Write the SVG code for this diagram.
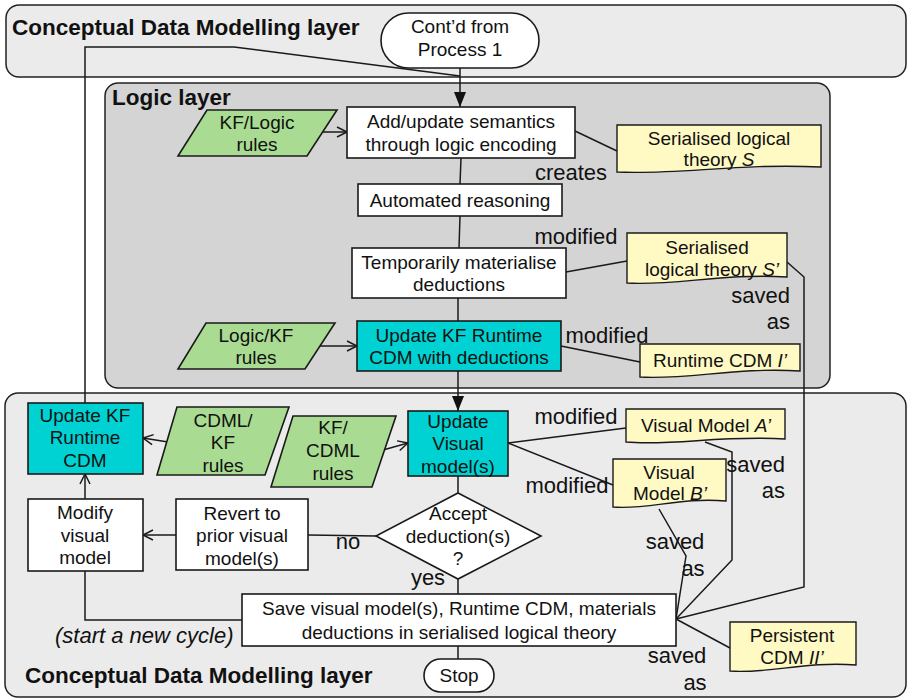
<svg xmlns="http://www.w3.org/2000/svg" width="910" height="700" viewBox="0 0 910 700">
<defs>
<style>
text{font-family:"Liberation Sans",Arial,Helvetica,sans-serif;font-size:19px;fill:#111;}
.c{text-anchor:middle;}
.r{text-anchor:end;}
.lbl{font-size:22px;}
.ttl{font-size:22.5px;font-weight:bold;}
.it{font-style:italic;}
.lay{fill:#ebebeb;stroke:#222;stroke-width:1.5;}
.lay2{fill:#d4d4d4;stroke:#222;stroke-width:1.5;}
.box{fill:#fff;stroke:#1a1a1a;stroke-width:1.6;}
.cy{fill:#00d1d2;stroke:#1a1a1a;stroke-width:1.6;}
.gr{fill:#a9dc92;stroke:#1a1a1a;stroke-width:1.6;}
.nt{fill:#fff9c4;stroke:#1a1a1a;stroke-width:1.4;}
.ln{fill:none;stroke:#1a1a1a;stroke-width:1.5;}
.oa{marker-end:url(#open);}
.fa{marker-end:url(#fill);}
</style>
<marker id="open" viewBox="0 0 11 11" refX="10" refY="5" markerWidth="11" markerHeight="11" markerUnits="userSpaceOnUse" orient="auto" overflow="visible">
<path d="M0,0 L10,5 L0,10" fill="none" stroke="#1a1a1a" stroke-width="1.5"/>
</marker>
<marker id="fill" viewBox="0 0 15 12" refX="15" refY="6" markerWidth="15" markerHeight="12" markerUnits="userSpaceOnUse" orient="auto" overflow="visible">
<path d="M0,0 L15,6 L0,12 Z" fill="#111"/>
</marker>
</defs>

<g id="layers">
<rect class="lay" x="6" y="5" width="900" height="72" rx="13"/>
<text class="ttl" x="12" y="35">Conceptual Data Modelling layer</text>
<rect class="lay2" x="105" y="83" width="725" height="305" rx="13"/>
<text class="ttl" x="112" y="105">Logic layer</text>
<rect class="lay" x="5" y="393" width="901" height="304" rx="13"/>
<text class="ttl" x="25" y="683">Conceptual Data Modelling layer</text>
</g>

<g id="connectors">
<path class="ln" d="M85,403 V47 H234 L460,76"/>
<path class="ln fa" d="M460,68 V107"/>
<path class="ln oa" d="M320,132 L347,132"/>
<path class="ln" d="M575,131 L617,151"/>
<path class="ln" d="M461,158 L460,184"/>
<path class="ln" d="M460,216 L459,248"/>
<path class="ln" d="M566,272 L627,261"/>
<path class="ln" d="M787,262 L804,277 V587 L676,619"/>
<path class="ln" d="M458,298 V321"/>
<path class="ln oa" d="M320,346 L357,346"/>
<path class="ln" d="M561,346 L640,362"/>
<path class="ln fa" d="M458,371 V411"/>
<path class="ln oa" d="M168,442 L143,438"/>
<path class="ln oa" d="M383,450 L408,443"/>
<path class="ln" d="M508,443 L626,428"/>
<path class="ln" d="M508,443 L613,485"/>
<path class="ln" d="M458,476 V493"/>
<path class="ln" d="M376,536 L308,535"/>
<path class="ln oa" d="M176,535 L143,535"/>
<path class="ln oa" d="M85,499 V474"/>
<path class="ln" d="M85,571 V620 H242"/>
<path class="ln" d="M458,579 V594"/>
<path class="ln" d="M458,646 V659"/>
<path class="ln" d="M705,442 L732,452 V560 L676,619"/>
<path class="ln" d="M659,509 L686,556 L676,619"/>
<path class="ln" d="M676,619 L730,648"/>
<text class="lbl c" x="571" y="180">creates</text>
<text class="lbl c" x="576" y="244">modified</text>
<text class="lbl r" x="790" y="303">saved</text>
<text class="lbl r" x="790" y="329">as</text>
<text class="lbl c" x="607" y="343">modified</text>
<text class="lbl c" x="576" y="424">modified</text>
<text class="lbl c" x="567" y="493">modified</text>
<text class="lbl r" x="785" y="472">saved</text>
<text class="lbl r" x="785" y="498">as</text>
<text class="lbl c" x="675" y="549">saved</text>
<text class="lbl c" x="693" y="576">as</text>
<text class="lbl c" x="677" y="663">saved</text>
<text class="lbl c" x="695" y="690">as</text>
<text class="lbl c" x="348" y="549">no</text>
<text class="lbl c" x="428" y="585">yes</text>
<text class="lbl it" x="55" y="643">(start a new cycle)</text>
</g>

<g id="n_start">
<rect class="box" x="381" y="13" width="158" height="55" rx="27.5"/>
<text class="c" x="460" y="33">Cont’d from</text>
<text class="c" x="460" y="56">Process 1</text>
</g>

<g id="n_kflogic">
<polygon class="gr" points="207,110 337,110 307,156 178,156"/>
<text class="c" x="257" y="129">KF/Logic</text>
<text class="c" x="257" y="151">rules</text>
</g>
<g id="n_add">
<rect class="box" x="347" y="107" width="228" height="51"/>
<text class="c" x="461" y="128">Add/update semantics</text>
<text class="c" x="461" y="151">through logic encoding</text>
</g>
<g id="n_auto">
<rect class="box" x="358" y="184" width="204" height="32"/>
<text class="c" x="460" y="207">Automated reasoning</text>
</g>
<g id="n_temp">
<rect class="box" x="352" y="248" width="214" height="50"/>
<text class="c" x="459" y="269">Temporarily materialise</text>
<text class="c" x="459" y="291">deductions</text>
</g>
<g id="n_logickf">
<polygon class="gr" points="206,323 335,323 305,369 178,369"/>
<text class="c" x="256" y="342">Logic/KF</text>
<text class="c" x="256" y="364">rules</text>
</g>
<g id="n_updkf">
<rect class="cy" x="357" y="321" width="204" height="50"/>
<text class="c" x="459" y="342">Update KF Runtime</text>
<text class="c" x="459" y="364">CDM with deductions</text>
</g>
<g id="n_S">
<path class="nt" d="M617,125 H821 V167 C739,163 678,175 617,172 Z"/>
<text class="c" x="719" y="145">Serialised logical</text>
<text class="c" x="719" y="166">theory <tspan class="it">S</tspan></text>
</g>
<g id="n_Sp">
<path class="nt" d="M627,233 H787 V277 C723,273 675,286 627,283 Z"/>
<text class="c" x="707" y="254">Serialised</text>
<text class="c" x="712" y="276">logical theory <tspan class="it">S’</tspan></text>
</g>
<g id="n_Ip">
<path class="nt" d="M640,344 H800 V371 C736,367 688,380 640,377 Z"/>
<text class="c" x="720" y="367">Runtime CDM <tspan class="it">I’</tspan></text>
</g>

<g id="n_updkf2">
<rect class="cy" x="28" y="403" width="115" height="71"/>
<text class="c" x="85" y="422">Update KF</text>
<text class="c" x="85" y="444">Runtime</text>
<text class="c" x="85" y="467">CDM</text>
</g>
<g id="n_cdmlkf">
<polygon class="gr" points="177,407 289,407 265,475 157,475"/>
<text class="c" x="223" y="427">CDML/</text>
<text class="c" x="223" y="449">KF</text>
<text class="c" x="223" y="472">rules</text>
</g>
<g id="n_kfcdml">
<polygon class="gr" points="293,416 396,416 372,487 271,487"/>
<text class="c" x="333" y="434">KF/</text>
<text class="c" x="333" y="457">CDML</text>
<text class="c" x="333" y="480">rules</text>
</g>
<g id="n_updvis">
<rect class="cy" x="408" y="411" width="100" height="65"/>
<text class="c" x="458" y="428">Update</text>
<text class="c" x="458" y="450">Visual</text>
<text class="c" x="458" y="473">model(s)</text>
</g>
<g id="n_accept">
<polygon class="box" points="458,493 541,536 458,579 376,536"/>
<text class="c" x="458" y="520">Accept</text>
<text class="c" x="458" y="543">deduction(s)</text>
<text class="c" x="458" y="565">?</text>
</g>
<g id="n_revert">
<rect class="box" x="176" y="499" width="132" height="71"/>
<text class="c" x="242" y="520">Revert to</text>
<text class="c" x="242" y="542">prior visual</text>
<text class="c" x="242" y="565">model(s)</text>
</g>
<g id="n_modify">
<rect class="box" x="28" y="499" width="115" height="72"/>
<text class="c" x="85" y="519">Modify</text>
<text class="c" x="85" y="542">visual</text>
<text class="c" x="85" y="564">model</text>
</g>
<g id="n_save">
<rect class="box" x="242" y="594" width="434" height="52"/>
<text class="c" x="459" y="615">Save visual model(s), Runtime CDM, materials</text>
<text class="c" x="459" y="639">deductions in serialised logical theory</text>
</g>
<g id="n_stop">
<rect class="box" x="424" y="659" width="70" height="33" rx="16.5"/>
<text class="c" x="459" y="682">Stop</text>
</g>
<g id="n_Ap">
<path class="nt" d="M626,409 H785 V439 C721,435 674,446 626,442 Z"/>
<text class="c" x="706" y="432">Visual Model <tspan class="it">A’</tspan></text>
</g>
<g id="n_Bp">
<path class="nt" d="M613,459 H726 V501 C681,497 647,510 613,507 Z"/>
<text class="c" x="669" y="479">Visual</text>
<text class="c" x="670" y="500">Model <tspan class="it">B’</tspan></text>
</g>
<g id="n_IIp">
<path class="nt" d="M730,622 H856 V665 C806,661 768,674 730,671 Z"/>
<text class="c" x="792" y="642">Persistent</text>
<text class="c" x="792" y="664">CDM <tspan class="it">II’</tspan></text>
</g>
</svg>
